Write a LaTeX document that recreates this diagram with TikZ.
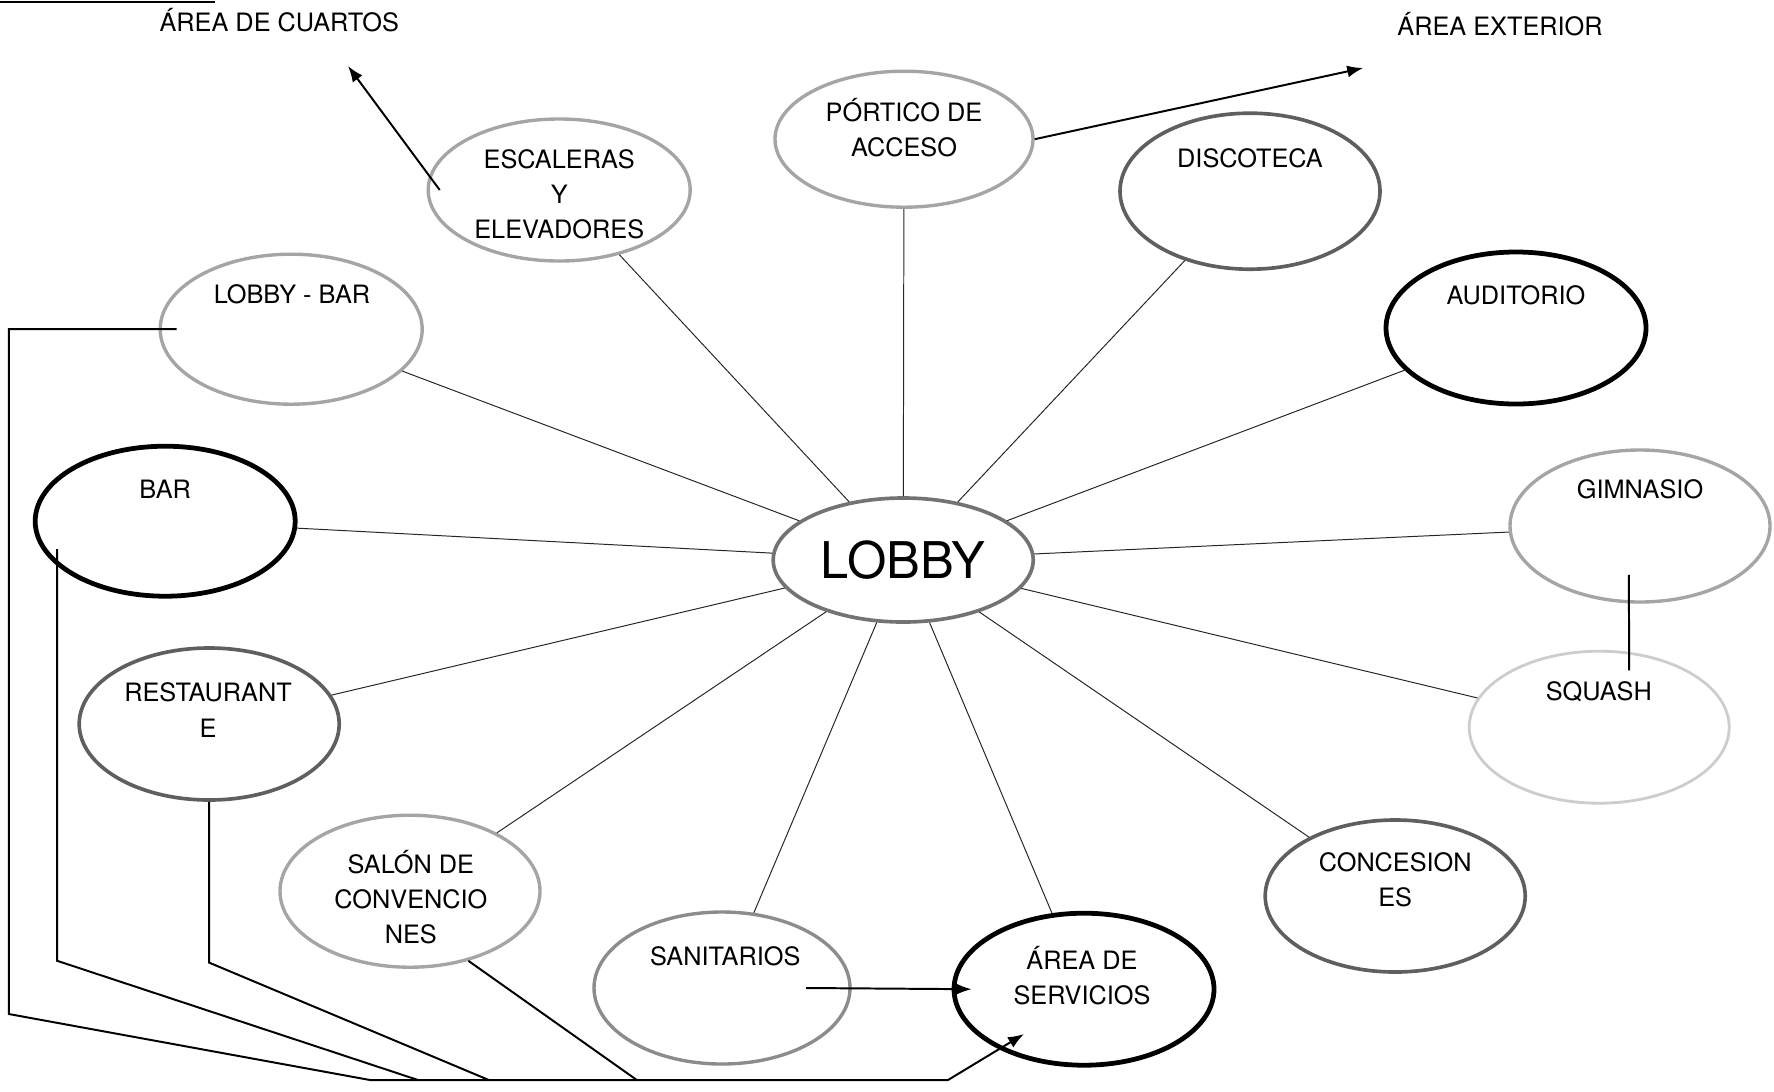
\documentclass[tikz,border=0pt]{standalone}
\usepackage{fontspec}
\setmainfont{TeX Gyre Heros}
\usetikzlibrary{shapes.geometric,arrows.meta}
\definecolor{ringlight}{RGB}{165,165,165}
\definecolor{ringpale}{RGB}{205,205,205}
\definecolor{ringdark}{RGB}{95,95,95}
\definecolor{ringlobby}{RGB}{115,115,115}

\begin{document}
\begin{tikzpicture}[
  room/.style={ellipse,minimum width=6.5cm,minimum height=3.8cm,inner sep=0pt},
  light/.style={room,draw=ringlight,line width=2.4pt},
  pale/.style={room,draw=ringpale,line width=2pt},
  dark/.style={room,draw=ringdark,line width=2.6pt},
  heavy/.style={room,draw=black,line width=3.4pt},
  tag/.style={font=\fontsize{18}{25}\selectfont,align=center,inner sep=0pt},
  spoke/.style={draw=black!85,line width=0.7pt},
  bus/.style={black,line width=1.4pt},
  arr/.style={bus,-{Latex[length=0.4cm,width=0.3cm]}}]
\useasboundingbox (0,0) rectangle (44.35,-27.275);
\draw[line width=1.2pt] (0,-0.05) -- (5.38,-0.05);

\node[room,draw=ringlobby,line width=2.6pt,minimum height=3.1cm,font=\fontsize{36}{40}\selectfont] (lobby) at (22.58,-14.0) {LOBBY};

\node[light,minimum width=6.45cm,minimum height=3.4cm] (port) at (22.6,-3.48) {};
\node[tag] (port-t) at (22.6,-3.19) {PÓRTICO DE\\ACCESO};
\node[light,minimum width=6.55cm,minimum height=3.55cm] (esc) at (13.98,-4.75) {};
\node[tag] (esc-t) at (13.98,-4.85) {ESCALERAS\\Y\\ELEVADORES};
\node[dark,minimum height=3.9cm] (disco) at (31.25,-4.78) {};
\node[tag] (disco-t) at (31.25,-3.95) {DISCOTECA};
\node[heavy] (audit) at (37.9,-8.2) {};
\node[tag] (audit-t) at (37.9,-7.38) {AUDITORIO};
\node[light] (gym) at (41.0,-13.15) {};
\node[tag] (gym-t) at (41.0,-12.22) {GIMNASIO};
\node[pale] (squash) at (39.98,-18.18) {};
\node[tag] (squash-t) at (39.97,-17.3) {SQUASH};
\node[dark] (conces) at (34.88,-22.4) {};
\node[tag] (conces-t) at (34.88,-22.0) {CONCESION\\ES};
\node[heavy] (serv) at (27.1,-24.73) {};
\node[tag] (serv-t) at (27.05,-24.39) {ÁREA DE\\SERVICIOS};
\node[light,draw=ringlight!85!black,minimum width=6.4cm] (sanit) at (18.05,-24.7) {};
\node[tag] (sanit-t) at (18.13,-23.9) {SANITARIOS};
\node[light] (salon) at (10.25,-22.28) {};
\node[tag] (salon-t) at (10.27,-22.43) {SALÓN DE\\CONVENCIO\\NES};
\node[dark] (rest) at (5.23,-18.1) {};
\node[tag] (rest-t) at (5.2,-17.75) {RESTAURANT\\E};
\node[heavy,minimum height=3.75cm] (bar) at (4.13,-13.03) {};
\node[tag] (bar-t) at (4.13,-12.22) {BAR};
\node[light,minimum width=6.55cm,minimum height=3.75cm] (lbar) at (7.28,-8.23) {};
\node[tag] (lbar-t) at (7.3,-7.35) {LOBBY - BAR};

\node[tag] (cuartos) at (6.98,-0.5) {ÁREA DE CUARTOS};
\node[tag] (exterior) at (37.5,-0.6) {ÁREA EXTERIOR};

% spokes out of the lobby
\foreach \r in {port,esc,disco,audit,gym,squash,conces,serv,sanit,salon,rest,bar,lbar}
  \draw[spoke] (lobby) -- (\r);
\draw[bus] ([xshift=-0.28cm,yshift=-1.22cm]gym.center) -- ([xshift=0.75cm,yshift=1.42cm]squash.center);

% arrows to the outer areas
\coordinate (to-cuartos) at (8.7,-1.65);
\coordinate (to-exterior) at (34.08,-1.7);
\draw[arr] ([xshift=0.33cm]esc.west) -- (to-cuartos);
\draw[arr] (port.east) -- (to-exterior);
\draw[arr] ([xshift=2.1cm]sanit.center) -- ([xshift=0.5cm]serv.west);

% service route along the bottom
\coordinate (j1) at (9.25,-27.0);
\coordinate (j2) at (10.45,-27.0);
\coordinate (j3) at (12.22,-27.0);
\coordinate (j4) at (15.92,-27.0);
\coordinate (jend) at (23.7,-27.0);
\coordinate (serv-in) at (25.6,-25.85);
\draw[bus] ([xshift=0.45cm]lbar.west) -| (0.22,-25.35) -- (j1);
\draw[bus] ([shift={(-2.7,-0.7)}]bar.center) -- (1.43,-24.02) -- (j2);
\draw[bus] (rest.south) -- ++(0,-4.02) -- (j3);
\draw[bus] (salon.-50) -- (j4);
\draw[arr] (j1) -- (jend) -- (serv-in);
\end{tikzpicture}
\end{document}
